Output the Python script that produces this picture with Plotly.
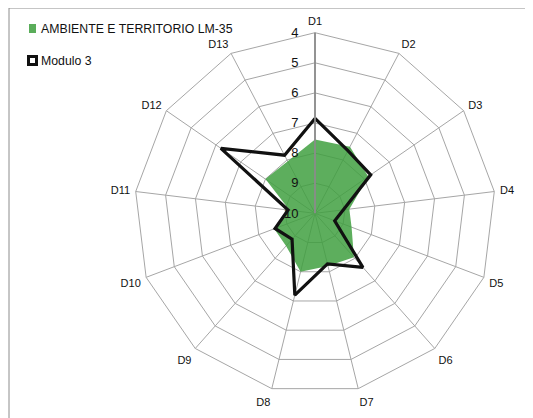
import plotly.graph_objects as go

categories = ["D1", "D2", "D3", "D4", "D5", "D6", "D7", "D8", "D9", "D10", "D11", "D12", "D13"]
ambiente = [7.55, 7.5, 7.85, 8.85, 8.7, 8.05, 8.2, 8.0, 8.55, 8.55, 9.15, 8.0, 8.05]
modulo3 = [6.85, 7.65, 7.75, 9.05, 9.3, 7.6, 8.27, 7.2, 8.85, 8.58, 9.1, 6.2, 7.82]
radial_ticks = [4, 5, 6, 7, 8, 9, 10]
series_names = ["AMBIENTE E TERRITORIO LM-35", "Modulo 3"]

# The page body has an 8px margin, so the figure is drawn 8px smaller and
# positions are given in page pixels minus that offset.
OFF = 8
W, H = 533 - OFF, 418 - OFF
cx, cy, R = 315.0 - OFF, 213.3 - OFF, 180.6

fig = go.Figure()
fig.add_trace(go.Scatterpolar(
    r=ambiente + ambiente[:1], theta=categories + categories[:1],
    name=series_names[0], mode="lines",
    line=dict(color="rgba(0,0,0,0)", width=0),
    fill="toself", fillcolor="rgba(62,158,62,0.84)",
    showlegend=False,
))
fig.add_trace(go.Scatterpolar(
    r=modulo3 + modulo3[:1], theta=categories + categories[:1],
    name=series_names[1], mode="lines",
    line=dict(color="#111111", width=3.2),
    showlegend=False,
))

font = "Liberation Sans, Arial, sans-serif"
fig.update_layout(
    width=W, height=H,
    margin=dict(l=0, r=0, t=0, b=0),
    paper_bgcolor="white", plot_bgcolor="white",
    font=dict(family=font, size=11, color="#000000"),
    showlegend=False,
    polar=dict(
        domain=dict(x=[(cx - R) / W, (cx + R) / W],
                    y=[(H - cy - R) / H, (H - cy + R) / H]),
        bgcolor="white",
        gridshape="linear",
        radialaxis=dict(range=[10, 4], tickvals=radial_ticks,
                        angle=90, tickangle=90, side="counterclockwise",
                        showline=True, linecolor="#8c8c8c", linewidth=1.8,
                        gridcolor="#a6a6a6", gridwidth=1,
                        ticks="outside", ticklen=11, tickcolor="rgba(0,0,0,0)",
                        tickfont=dict(size=13, color="#111")),
        angularaxis=dict(direction="clockwise", rotation=90,
                         categoryorder="array", categoryarray=categories,
                         showline=True, linecolor="#a6a6a6", linewidth=1,
                         gridcolor="#a6a6a6", gridwidth=1,
                         ticks="outside", ticklen=3, tickcolor="rgba(0,0,0,0)",
                         tickfont=dict(size=11, color="#111")),
    ),
)

def px(x):
    return (x - OFF) / W

def py(y):
    return (H - (y - OFF)) / H

shapes = []
top = py(8)
shapes.append(dict(type="line", xref="paper", yref="paper", x0=px(9), x1=1, y0=top, y1=top,
                   line=dict(color="#8c8c8c", width=1)))
shapes.append(dict(type="line", xref="paper", yref="paper", x0=px(9), x1=px(9), y0=0, y1=top,
                   line=dict(color="#8c8c8c", width=1)))
# legend swatches
shapes.append(dict(type="rect", xref="paper", yref="paper", x0=px(29), x1=px(36), y0=py(33), y1=py(24),
                   fillcolor="#5aad5a", line=dict(width=0)))
shapes.append(dict(type="rect", xref="paper", yref="paper", x0=px(28.5), x1=px(36.5), y0=py(64.5), y1=py(56.5),
                   fillcolor="white", line=dict(color="#111", width=3)))
fig.update_layout(shapes=shapes)

annotations = [
    dict(text=series_names[0], x=px(39), y=py(29), xref="paper", yref="paper", xanchor="left", yanchor="middle",
         showarrow=False, font=dict(size=12.3, color="#111")),
    dict(text=series_names[1], x=px(39), y=py(61), xref="paper", yref="paper", xanchor="left", yanchor="middle",
         showarrow=False, font=dict(size=12.3, color="#111")),
]
fig.update_layout(annotations=annotations)

fig.write_html("out.html")
